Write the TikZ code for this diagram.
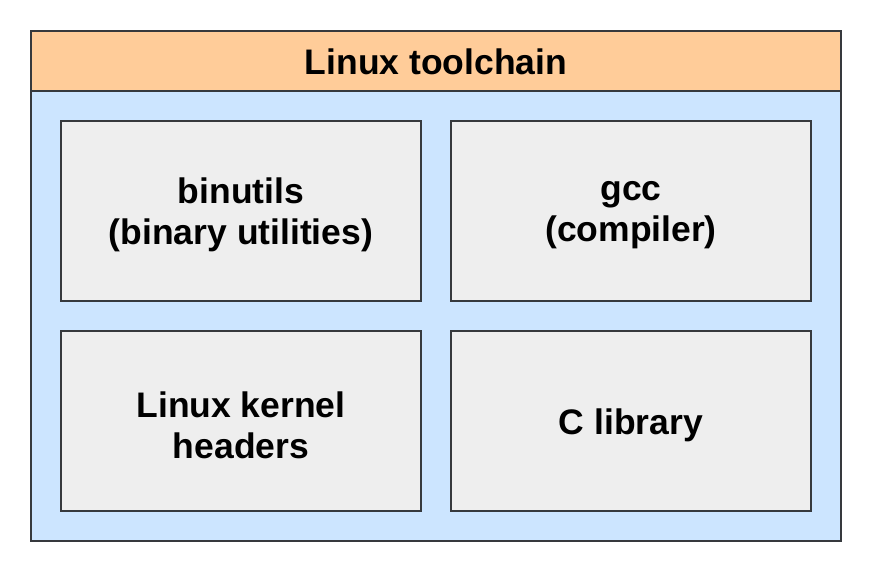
\documentclass[tikz,border=0pt]{standalone}
\usepackage{fontspec}
\setmainfont{Liberation Sans}
\usepackage{xcolor}
\usetikzlibrary{positioning, calc}

\definecolor{headfill}{HTML}{FFCC99}
\definecolor{bodyfill}{HTML}{CCE5FF}
\definecolor{partfill}{HTML}{EEEEEE}
\definecolor{edge}{HTML}{36393D}

\tikzset{
  parttext/.style={font=\fontsize{35.5}{41}\selectfont\bfseries, align=center},
  partbox/.style={draw=edge, fill=partfill, line width=2.5pt, minimum width=360pt, minimum height=180pt, inner sep=0pt},
}

\begin{document}
\begin{tikzpicture}[x=1pt, y=-1pt]
      \useasboundingbox (0, 0) rectangle (873, 573);

      \node[draw=edge, fill=bodyfill, line width=2.5pt, minimum width=810pt, minimum height=510pt, inner sep=0pt] (chain) at (436, 286) {};
      \node[draw=edge, fill=headfill, line width=2.5pt, minimum width=810pt, minimum height=60pt, inner sep=0pt, anchor=north] (head) at (chain.north) {};
      \node[parttext] (headtext) at ([yshift=-1pt]head) {Linux toolchain};

      \node[partbox] (binutils) at (241, 211) {};
      \node[partbox] (gcc) at (631, 211) {};
      \node[partbox] (headers) at (241, 421) {};
      \node[partbox] (libc) at (631, 421) {};

      \node[parttext] (binutilstext) at ([yshift=-4pt]binutils) {binutils\\(binary utilities)};
      \node[parttext] (gcctext) at ([yshift=-4pt]gcc) {gcc\\(compiler)};
      \node[parttext] (headerstext) at ([yshift=-4pt]headers) {Linux kernel\\headers};
      \node[parttext] (libctext) at ([yshift=-4pt]libc) {C library};

    \end{tikzpicture}
\end{document}
